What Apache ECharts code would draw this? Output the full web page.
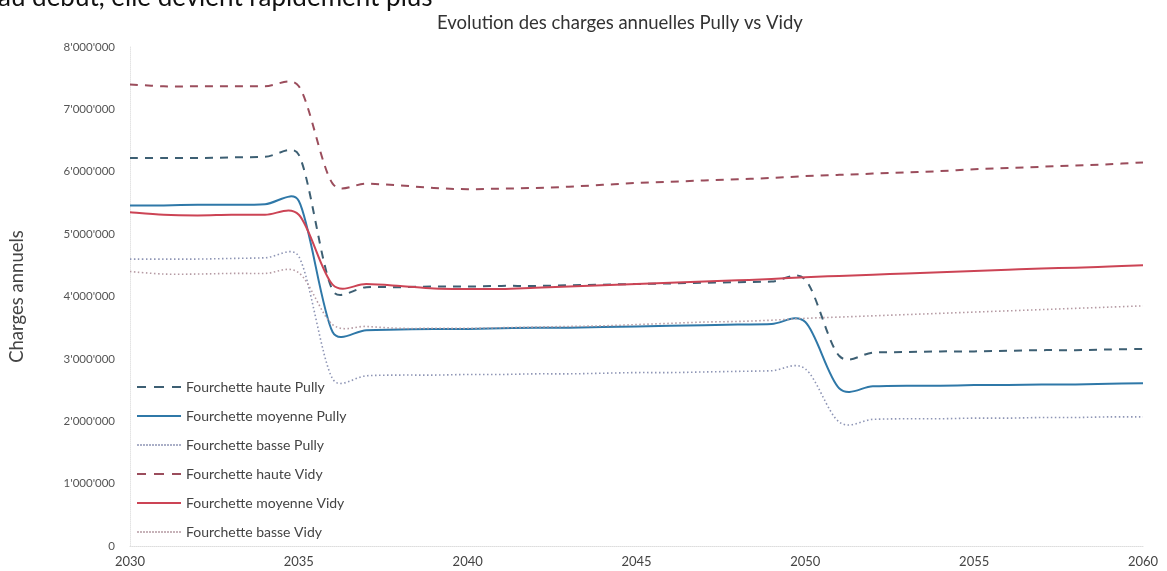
<!DOCTYPE html>
<html>
<head>
<meta charset="utf-8">
<script src="https://cdn.jsdelivr.net/npm/echarts@6/dist/echarts.min.js"></script>
<style>
html,body{margin:0;padding:0;background:#fff;}
#c{width:1167px;height:571px;}
</style>
</head>
<body>
<div id="c"></div>
<script>
const years = [2030,2031,2032,2033,2034,2035,2036,2037,2038,2039,2040,2041,2042,2043,2044,2045,2046,2047,2048,2049,2050,2051,2052,2053,2054,2055,2056,2057,2058,2059,2060];
const pullyHaute = [6220000,6220000,6220000,6230000,6240000,6270000,4100000,4150000,4150000,4160000,4160000,4170000,4170000,4180000,4190000,4200000,4210000,4220000,4230000,4240000,4270000,3050000,3100000,3110000,3120000,3120000,3130000,3140000,3140000,3150000,3160000];
const pullyMoyenne = [5460000,5460000,5470000,5470000,5480000,5530000,3430000,3460000,3470000,3480000,3480000,3490000,3500000,3500000,3510000,3520000,3530000,3540000,3550000,3560000,3590000,2530000,2560000,2570000,2570000,2580000,2580000,2590000,2590000,2600000,2610000];
const pullyBasse = [4600000,4600000,4600000,4610000,4620000,4640000,2680000,2730000,2740000,2740000,2750000,2750000,2760000,2760000,2770000,2780000,2780000,2790000,2800000,2810000,2840000,1990000,2030000,2040000,2040000,2050000,2050000,2060000,2060000,2070000,2070000];
const vidyHaute = [7400000,7370000,7370000,7370000,7370000,7370000,5810000,5810000,5780000,5740000,5720000,5730000,5740000,5760000,5790000,5820000,5840000,5860000,5880000,5900000,5930000,5950000,5970000,5990000,6010000,6040000,6060000,6080000,6100000,6120000,6150000];
const vidyMoyenne = [5350000,5310000,5300000,5310000,5310000,5310000,4190000,4200000,4170000,4130000,4120000,4120000,4140000,4160000,4180000,4200000,4220000,4240000,4260000,4280000,4310000,4330000,4350000,4370000,4390000,4410000,4430000,4450000,4460000,4480000,4500000];
const vidyBasse = [4400000,4360000,4360000,4370000,4370000,4380000,3550000,3520000,3490000,3490000,3490000,3500000,3510000,3520000,3530000,3550000,3570000,3590000,3600000,3620000,3650000,3670000,3690000,3710000,3730000,3750000,3770000,3790000,3810000,3830000,3850000];
const seriesNames = ['Fourchette haute Pully','Fourchette moyenne Pully','Fourchette basse Pully','Fourchette haute Vidy','Fourchette moyenne Vidy','Fourchette basse Vidy'];
const title = 'Evolution des charges annuelles Pully vs Vidy';
const yAxisName = 'Charges annuels';
const topText = 'au début, elle devient rapidement plus';

const allData = [pullyHaute,pullyMoyenne,pullyBasse,vidyHaute,vidyMoyenne,vidyBasse];
const styles = [
  {color:'#3d5f73', dash:[8,7], width:2, kind:'dash'},
  {color:'#2f78a8', dash:null, width:2, kind:'solid'},
  {color:'#8e95b5', dash:[1.5,2.5], width:1.6, kind:'dot'},
  {color:'#9b4d5c', dash:[8,7], width:2, kind:'dash'},
  {color:'#cc4455', dash:null, width:2, kind:'solid'},
  {color:'#b59aa3', dash:[1.5,2.5], width:1.6, kind:'dot'}
];

// legend icons (pure style)
function dotIcon(){ let s='path://'; for(let x=0;x<44;x+=3){ s+='M'+x+',0h1.5v2h-1.5z'; } return s; }
const icons = {
  dash:'path://M0,0h9v2h-9zM17,0h10v2h-10zM35,0h9v2h-9z',
  solid:'path://M0,0h44v2h-44z',
  dot:dotIcon()
};

function fmt(v){
  return String(Math.round(v)).replace(/\B(?=(\d{3})+(?!\d))/g, "'");
}

// Excel-like smoothed curve through data points, using the chart's own coordinate mapping
function smoothPath(api, vals){
  const pts = years.map((y,j)=>api.coord([y, vals[j]]));
  const n = pts.length, cin = [], cout = [];
  for (let i=0;i<n;i++){
    const p = pts[i], pp = pts[Math.max(0,i-1)], pn = pts[Math.min(n-1,i+1)];
    const tx = (pn[0]-pp[0])/6, ty = (pn[1]-pp[1])/6;
    const tl = Math.hypot(tx,ty) || 1;
    const dp = Math.hypot(p[0]-pp[0], p[1]-pp[1]);
    const dn = Math.hypot(pn[0]-p[0], pn[1]-p[1]);
    const si = Math.min(1, dp*0.4/tl), so = Math.min(1, dn*0.4/tl);
    cin[i] = [p[0]-tx*si, p[1]-ty*si];
    cout[i] = [p[0]+tx*so, p[1]+ty*so];
  }
  let d = 'M'+pts[0][0]+','+pts[0][1];
  for (let i=0;i<n-1;i++){
    d += 'C'+cout[i][0]+','+cout[i][1]+' '+cin[i+1][0]+','+cin[i+1][1]+' '+pts[i+1][0]+','+pts[i+1][1];
  }
  return d;
}

const chart = echarts.init(document.getElementById('c'));
chart.setOption({
  backgroundColor:'#fff',
  animation:false,
  textStyle:{fontFamily:'Lato, "Open Sans", sans-serif'},
  title:{
    text:title, left:432, top:9,
    textStyle:{fontSize:18.5, fontWeight:'normal', color:'#333', fontFamily:'Lato, "Open Sans", sans-serif'}
  },
  graphic:[{
    type:'text', left:-2, top:-15,
    style:{text:topText, fontSize:26, fill:'#111', fontFamily:'Lato, "Open Sans", sans-serif'}
  }],
  grid:{left:128, right:24, top:47, bottom:25, containLabel:false},
  legend:{
    orient:'vertical', left:132, top:375, itemWidth:44, itemHeight:2, itemGap:15,
    textStyle:{fontSize:14, color:'#444'},
    itemStyle:{borderWidth:0},
    data:seriesNames.map((n,i)=>({name:n, icon:icons[styles[i].kind]}))
  },
  xAxis:{
    type:'value', min:2030, max:2060, interval:5,
    axisLine:{show:true, lineStyle:{color:'#ddd', type:'dotted'}},
    axisTick:{show:false},
    splitLine:{show:false},
    axisLabel:{fontSize:13, color:'#444', margin:9, formatter:(v)=>String(v)}
  },
  yAxis:{
    type:'value', min:0, max:8000000, interval:1000000,
    name:yAxisName, nameLocation:'middle', nameGap:103, nameRotate:90,
    nameTextStyle:{fontSize:18.5, color:'#444'},
    axisLine:{show:true, lineStyle:{color:'#e4e4e4', type:'dotted'}},
    axisTick:{show:false},
    splitLine:{show:false},
    axisLabel:{fontSize:11.5, color:'#555', margin:15, formatter:fmt}
  },
  series: seriesNames.map((n,i)=>({
    name:n, type:'custom', coordinateSystem:'cartesian2d', clip:false, silent:true,
    itemStyle:{color:styles[i].color},
    data:[[years[0], allData[i][0]]],
    renderItem:(params, api)=>({
      type:'path',
      shape:{pathData:smoothPath(api, allData[i])},
      style:{fill:'none', stroke:styles[i].color, lineWidth:styles[i].width, lineDash:styles[i].dash, lineCap:'butt'}
    })
  }))
});
</script>
</body>
</html>
